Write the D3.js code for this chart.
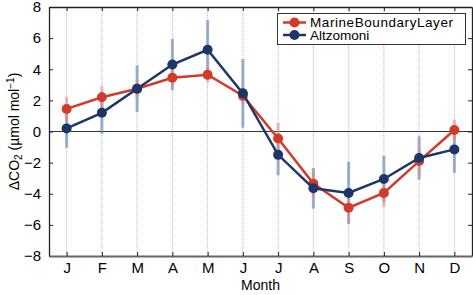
<!DOCTYPE html>
<html>
<head>
<meta charset="utf-8">
<script src="https://cdn.jsdelivr.net/npm/d3@7"></script>
<style>
  body { margin: 0; background: #fff; }
  svg { font-family: "Liberation Sans", Arial, sans-serif; }
  .tick text { font-size: 15px; fill: #000; }
</style>
</head>
<body>
<div id="chart"></div>
<script>
var months = ["J","F","M","A","M","J","J","A","S","O","N","D"];
var mblValues = [1.45, 2.2, 2.75, 3.45, 3.65, 2.3, -0.45, -3.35, -4.9, -3.95, -1.9, 0.1];
var mblErr = [0.8, 0.7, 0.55, 0.5, 0.5, 0.5, 1.0, 0.9, 0.9, 0.9, 0.9, 0.65];
var altValues = [0.2, 1.2, 2.75, 4.3, 5.25, 2.45, -1.5, -3.65, -3.95, -3.05, -1.7, -1.15];
var altErr = [1.25, 1.35, 1.5, 1.65, 1.9, 2.2, 1.3, 1.3, 2.0, 1.5, 1.4, 1.5];
var yTicks = [-8, -6, -4, -2, 0, 2, 4, 6, 8];

var w = 473, h = 295;
var pL = 49, pR = 472, pT = 7, pB = 256;

var svg = d3.select("#chart").append("svg")
  .attr("width", w)
  .attr("height", h);

var x = d3.scaleLinear().domain([0.5, 12.5]).range([pL, pR]);
var y = d3.scaleLinear().domain([-8, 8]).range([pB, pT]);
var idx = d3.range(1, 13);

// vertical dotted grid
svg.append("g").selectAll("line")
  .data(idx)
  .enter().append("line")
  .attr("x1", function(d) { return x(d); })
  .attr("x2", function(d) { return x(d); })
  .attr("y1", pT)
  .attr("y2", pB)
  .style("stroke", "#bbb")
  .style("stroke-width", 1)
  .style("stroke-dasharray", "1,1");

// zero line
svg.append("line")
  .attr("x1", pL).attr("x2", pR)
  .attr("y1", y(0)).attr("y2", y(0))
  .style("stroke", "#333")
  .style("stroke-width", 1.2);

// axes
var yAxis = d3.axisLeft(y).tickValues(yTicks).tickSize(-4).tickPadding(8).tickSizeOuter(0);
var yAxisR = d3.axisRight(y).tickValues(yTicks).tickSize(-4).tickFormat("").tickSizeOuter(0);
var xAxis = d3.axisBottom(x).tickValues(idx).tickSize(-4).tickPadding(6)
  .tickFormat(function(d) { return months[d - 1]; }).tickSizeOuter(0);
var xAxisT = d3.axisTop(x).tickValues(idx).tickSize(-4).tickFormat("").tickSizeOuter(0);

svg.append("g").attr("transform", "translate(" + pL + ",0)").call(yAxis);
svg.append("g").attr("transform", "translate(" + pR + ",0)").call(yAxisR);
svg.append("g").attr("transform", "translate(0," + pT + ")").call(xAxisT);
var gx = svg.append("g").attr("transform", "translate(0," + pB + ")").call(xAxis);
svg.selectAll(".domain").style("stroke", "#222").style("stroke-width", 1.3);
gx.select(".domain").style("stroke", "#666").style("stroke-width", 2);
svg.selectAll(".tick line").style("stroke", "#222");

// error bars
function errBars(vals, errs, color) {
  svg.append("g").selectAll("line")
    .data(vals)
    .enter().append("line")
    .attr("x1", function(d, i) { return x(i + 1); })
    .attr("x2", function(d, i) { return x(i + 1); })
    .attr("y1", function(d, i) { return y(d - errs[i]); })
    .attr("y2", function(d, i) { return y(d + errs[i]); })
    .style("stroke", color)
    .style("stroke-width", 3)
    .style("stroke-opacity", 0.6);
}
errBars(altValues, altErr, "#5a7fb2");
errBars(mblValues, mblErr, "#e58a82");

var line = d3.line()
  .x(function(d, i) { return x(i + 1); })
  .y(function(d) { return y(d); });

function series(vals, color) {
  svg.append("path")
    .datum(vals)
    .attr("d", line)
    .style("fill", "none")
    .style("stroke", color)
    .style("stroke-width", 2.5);
  svg.append("g").selectAll("circle")
    .data(vals)
    .enter().append("circle")
    .attr("cx", function(d, i) { return x(i + 1); })
    .attr("cy", function(d) { return y(d); })
    .attr("r", 5)
    .style("fill", color);
}
series(mblValues, "#d13b2c");
series(altValues, "#1e3567");

// legend
var legend = svg.append("g");
legend.append("rect")
  .attr("x", 277.5).attr("y", 13.5)
  .attr("width", 188).attr("height", 31)
  .style("fill", "#fff")
  .style("stroke", "#333")
  .style("stroke-width", 1);
var legItems = [["MarineBoundaryLayer", "#d13b2c"], ["Altzomoni", "#1e3567"]];
legItems.forEach(function(d, i) {
  var ly = 22.5 + i * 12.5;
  legend.append("line")
    .attr("x1", 283).attr("x2", 306)
    .attr("y1", ly).attr("y2", ly)
    .style("stroke", d[1]).style("stroke-width", 2.5);
  legend.append("circle")
    .attr("cx", 294.5).attr("cy", ly).attr("r", 5)
    .style("fill", d[1]);
  legend.append("text")
    .attr("x", 310).attr("y", ly + 4.5)
    .attr("textLength", i === 0 ? 143 : null)
    .style("font-size", "13.5px")
    .text(d[0]);
});

// axis labels
svg.append("text")
  .attr("x", pL + (pR - pL) / 2)
  .attr("y", 290)
  .attr("text-anchor", "middle")
  .style("font-size", "14px")
  .text("Month");

var yl = svg.append("text")
  .attr("transform", "translate(19," + ((pT + pB) / 2) + ") rotate(-90)")
  .attr("text-anchor", "middle")
  .style("font-size", "14px");
yl.append("tspan").text("ΔCO");
yl.append("tspan").attr("dy", 3).style("font-size", "10px").text("2");
yl.append("tspan").attr("dy", -3).text(" (µmol mol");
yl.append("tspan").attr("dy", -5).style("font-size", "10px").text("−1");
yl.append("tspan").attr("dy", 5).text(")");
</script>
</body>
</html>
